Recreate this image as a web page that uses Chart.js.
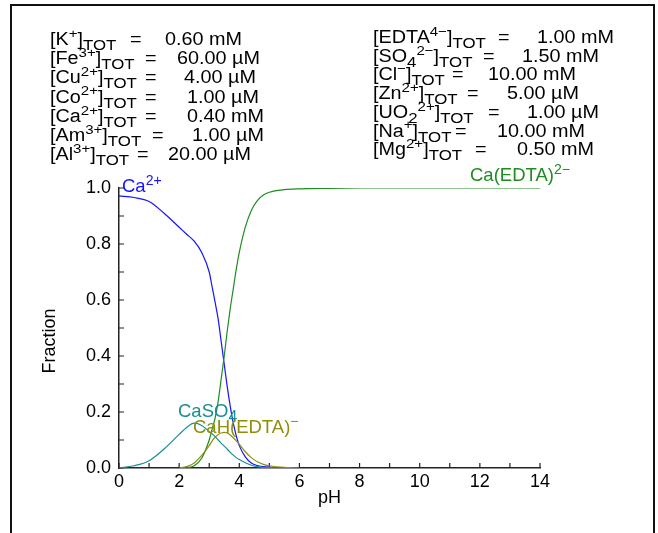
<!DOCTYPE html>
<html>
<head>
<meta charset="utf-8">
<script src="https://cdn.jsdelivr.net/npm/chart.js@4/dist/chart.umd.min.js"></script>
<style>
  body { margin: 0; background: #fff; }
  #wrap { width: 658px; height: 533px; position: relative; }
</style>
</head>
<body>
<div id="wrap"><canvas id="speciation-canvas"></canvas></div>
<script>
// pH grid and fractions
const pH = [0, 0.5, 1, 1.5, 2, 2.25, 2.5, 2.75, 3, 3.1, 3.2, 3.3, 3.4, 3.5, 3.6, 3.7, 3.8, 3.9, 4, 4.2, 4.4, 4.6, 4.8, 5, 5.5, 6, 7, 8, 9, 10, 11, 12, 13, 14];
const caFree   = [0.972, 0.966, 0.952, 0.91, 0.86, 0.835, 0.81, 0.77, 0.70, 0.645, 0.59, 0.53, 0.45, 0.37, 0.29, 0.22, 0.16, 0.115, 0.08, 0.04, 0.018, 0.009, 0.005, 0.003, 0.001, 0, null, null, null, null, null, null, null, null];
const caEdta   = [null, null, null, null, null, 0, 0.008, 0.035, 0.1, 0.14, 0.18, 0.24, 0.32, 0.40, 0.49, 0.57, 0.64, 0.71, 0.77, 0.86, 0.92, 0.955, 0.975, 0.985, 0.994, 0.997, 0.999, 1, 1, 1, 1, 1, 1, 1];
const caSo4    = [0, 0.008, 0.026, 0.068, 0.12, 0.145, 0.16, 0.152, 0.13, 0.122, 0.112, 0.1, 0.088, 0.078, 0.067, 0.056, 0.046, 0.037, 0.03, 0.019, 0.01, 0.005, 0.002, 0.001, 0, null, null, null, null, null, null, null, null, null];
const caHEdta  = [null, null, null, null, 0, 0.005, 0.018, 0.045, 0.08, 0.097, 0.11, 0.12, 0.125, 0.127, 0.125, 0.118, 0.108, 0.097, 0.085, 0.058, 0.037, 0.022, 0.013, 0.008, 0.002, 0, null, null, null, null, null, null, null, null];

// totals shown at the top
const leftLabels  = ['[K^{+}]_{TOT}', '[Fe^{3+}]_{TOT}', '[Cu^{2+}]_{TOT}', '[Co^{2+}]_{TOT}', '[Ca^{2+}]_{TOT}', '[Am^{3+}]_{TOT}', '[Al^{3+}]_{TOT}'];
const leftValues  = ['0.60 mM', '60.00 µM', '4.00 µM', '1.00 µM', '0.40 mM', '1.00 µM', '20.00 µM'];
const rightLabels = ['[EDTA^{4−}]_{TOT}', '[SO_{4}^{2−}]_{TOT}', '[Cl^{−}]_{TOT}', '[Zn^{2+}]_{TOT}', '[UO_{2}^{2+}]_{TOT}', '[Na^{+}]_{TOT}', '[Mg^{2+}]_{TOT}'];
const rightValues = ['1.00 mM', '1.50 mM', '10.00 mM', '5.00 µM', '1.00 µM', '10.00 mM', '0.50 mM'];

const xTicks = [0, 2, 4, 6, 8, 10, 12, 14];
const yTicks = [0, 0.2, 0.4, 0.6, 0.8, 1.0];

const FONT = '"Liberation Sans", Arial, sans-serif';
const BLUE = '#1414ff', GREEN = '#1f8c1f', TEAL = '#17908f', OLIVE = '#8f8f0a';

function drawRich(ctx, x, y, text, size, color) {
    const parts = text.match(/\^\{[^}]*\}|_\{[^}]*\}|[^^_]+/g);
    ctx.fillStyle = color;
    ctx.textAlign = 'left';
    ctx.textBaseline = 'alphabetic';
    parts.forEach(p => {
        let s = p, fs = size, dy = 0;
        if (p.startsWith('^{')) { s = p.slice(2, -1); fs = size * 0.76; dy = -size * 0.4; }
        else if (p.startsWith('_{')) { s = p.slice(2, -1); fs = size * 0.85; dy = size * 0.28; }
        ctx.font = fs + 'px ' + FONT;
        ctx.fillText(s, x, y + dy);
        x += ctx.measureText(s).width;
    });
    return x;
}

const decorations = {
    id: 'decorations',
    beforeDraw(chart) {
        const c = chart.ctx;
        c.save();
        c.fillStyle = '#fff';
        c.fillRect(0, 0, chart.width, chart.height);
        c.strokeStyle = '#111';
        c.lineWidth = 2;
        c.beginPath();
        c.moveTo(11, 533);
        c.lineTo(11, 5);
        c.lineTo(654, 5);
        c.lineTo(654, 533);
        c.stroke();

        // header block
        const eqL = [130, 145, 145, 145, 145, 152, 137];
        const valL = [165, 177, 184, 187, 187, 192, 168];
        const eqR = [498, 483, 452, 467, 488, 455, 475];
        const valR = [537, 522, 488, 507, 527, 497, 517];
        const sx = 1.1;
        leftLabels.forEach((lab, i) => {
            const y = 45 + i * 19.2;
            c.save(); c.translate(50, y); c.scale(sx, 1); drawRich(c, 0, 0, lab, 18, '#000'); c.restore();
            c.save(); c.translate(eqL[i], y); c.scale(sx, 1); drawRich(c, 0, 0, '=', 18, '#000'); c.restore();
            c.save(); c.translate(valL[i], y); c.scale(sx, 1); drawRich(c, 0, 0, leftValues[i], 18, '#000'); c.restore();
        });
        rightLabels.forEach((lab, i) => {
            const y = 43 + i * 18.7;
            c.save(); c.translate(373, y); c.scale(sx, 1); drawRich(c, 0, 0, lab, 18, '#000'); c.restore();
            c.save(); c.translate(eqR[i], y); c.scale(sx, 1); drawRich(c, 0, 0, '=', 18, '#000'); c.restore();
            c.save(); c.translate(valR[i], y); c.scale(sx, 1); drawRich(c, 0, 0, rightValues[i], 18, '#000'); c.restore();
        });

        // y axis title
        c.translate(50, 341);
        c.rotate(-Math.PI / 2);
        c.font = '18px ' + FONT;
        c.fillStyle = '#000';
        c.textAlign = 'center';
        c.textBaseline = 'middle';
        c.fillText('Fraction', 0, 0);
        c.restore();
    },
    beforeDatasetsDraw(chart) {
        const c = chart.ctx;
        const {x, y} = chart.scales;
        const a = chart.chartArea;
        c.save();
        c.strokeStyle = '#222';
        c.lineWidth = 1.2;
        c.beginPath();
        for (let v = 0; v <= 14; v++) {
            const px = x.getPixelForValue(v);
            c.moveTo(px, a.bottom); c.lineTo(px, a.bottom - 5);
        }
        for (let v = 0; v <= 10; v++) {
            const py = y.getPixelForValue(v / 10);
            c.moveTo(a.left, py); c.lineTo(a.left + 5, py);
        }
        c.stroke();
        c.restore();
    },
    afterDatasetsDraw(chart) {
        const c = chart.ctx;
        c.save();
        drawRich(c, 122, 192, 'Ca^{2+}', 18.5, BLUE);
        drawRich(c, 470, 181, 'Ca(EDTA)^{2−}', 18.5, GREEN);
        drawRich(c, 178, 417, 'CaSO_{4}', 18.5, TEAL);
        drawRich(c, 193, 433, 'CaH(EDTA)^{−}', 18.5, OLIVE);
        c.restore();
    }
};

const toPoints = arr => pH.map((v, i) => ({x: v, y: arr[i]}));
const series = (data, color) => ({
    data: toPoints(data),
    borderColor: color,
    backgroundColor: color,
    borderWidth: 1.2,
    pointRadius: 0,
    cubicInterpolationMode: 'monotone',
    spanGaps: false
});

new Chart(document.getElementById('speciation-canvas').getContext('2d'), {
    type: 'line',
    data: {
        datasets: [
            series(caSo4, TEAL),
            series(caHEdta, OLIVE),
            series(caEdta, GREEN),
            series(caFree, BLUE)
        ]
    },
    options: {
        responsive: true,
        maintainAspectRatio: false,
        animation: false,
        layout: { padding: { left: 0, top: 188, right: 118, bottom: 0 } },
        plugins: { legend: { display: false }, tooltip: { enabled: false } },
        scales: {
            x: {
                type: 'linear',
                min: 0, max: 14,
                afterFit: s => { s.height = 65; },
                afterBuildTicks: s => { s.ticks = xTicks.map(v => ({value: v})); },
                grid: { display: false, drawTicks: false },
                border: { display: true, color: '#222', width: 1.5 },
                ticks: {
                    padding: 3, maxRotation: 0, autoSkip: false, color: '#000',
                    font: { family: FONT, size: 18 },
                    callback: v => String(v)
                },
                title: { display: true, text: 'pH', color: '#000', font: { family: FONT, size: 18 }, padding: { top: 0, bottom: 24 } }
            },
            y: {
                min: 0, max: 1,
                afterFit: s => { s.width = 119; },
                afterBuildTicks: s => { s.ticks = yTicks.map(v => ({value: v})); },
                grid: { display: false, drawTicks: false },
                border: { display: true, color: '#222', width: 1.5 },
                ticks: {
                    padding: 8, color: '#000',
                    font: { family: FONT, size: 18 },
                    callback: v => v.toFixed(1)
                }
            }
        }
    },
    plugins: [decorations]
});
</script>
</body>
</html>
